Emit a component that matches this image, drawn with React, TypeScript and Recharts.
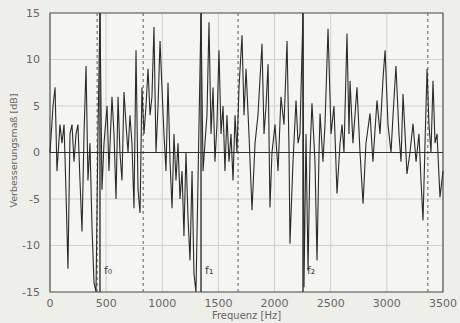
import React from 'react';
import { LineChart, Line, XAxis, YAxis, CartesianGrid, ReferenceLine, ReferenceArea } from 'recharts';

const frequencies = [
  0, 27, 45, 62, 89, 107, 125, 142, 160, 178, 196, 214, 232, 249, 267, 285, 303, 321, 338, 356,
  374, 392, 410, 427, 445, 463, 481, 508, 525, 552, 570, 588, 606, 623, 641, 659, 677, 695, 712, 730,
  748, 766, 784, 802, 819, 837, 855, 873, 891, 908, 926, 944, 962, 980, 997, 1015, 1033, 1051, 1069, 1087,
  1104, 1122, 1140, 1158, 1176, 1193, 1211, 1229, 1247, 1265, 1282, 1300, 1318, 1345, 1363, 1380, 1398, 1416, 1434, 1452,
  1469, 1487, 1505, 1523, 1541, 1558, 1576, 1594, 1612, 1630, 1648, 1665, 1683, 1710, 1728, 1746, 1772, 1799, 1826, 1852,
  1888, 1906, 1924, 1942, 1959, 1977, 2004, 2031, 2057, 2084, 2111, 2129, 2137, 2164, 2191, 2209, 2226, 2253, 2262, 2280,
  2298, 2316, 2333, 2360, 2378, 2396, 2405, 2431, 2449, 2476, 2503, 2529, 2556, 2583, 2601, 2618, 2645, 2663, 2672, 2698,
  2734, 2761, 2788, 2814, 2850, 2876, 2912, 2939, 2966, 2984, 3010, 3037, 3055, 3081, 3108, 3126, 3144, 3162, 3179, 3206,
  3233, 3260, 3286, 3304, 3322, 3340, 3358, 3375, 3393, 3411, 3429, 3447, 3473, 3500,
];

const improvement = [
  0, 5, 7, -2, 3, 1, 3, -4, -12.5, 2, 3, -1, 2, 3, -3, -8.5, 2, 9.3, -3, 1,
  -8, -14, -15, 2, 15, -4, 1, 5, -2, 6, 2, -5, 6, 0, -3, 6.5, 3, 0, 4, 1,
  -6, 11, -4, -6.5, 7, 2, 5, 9, 4, 6, 13.5, 0, 5, 12, 7, 2, -2, 7.5, -1, -6,
  2, -3, 1, -5, -2, -9, 0, -7, -11.6, -2, -13, -15, -3, 15, -2, 1, 4, 14, 2, 7,
  -1, 3, 11, 2, 5, -2, 4, -1, 2, -3, 4, 0, 7, 12.6, 4, 9, 2, -6.2, 1, 4,
  11.7, 2, 5, 9.5, -5.9, 0, 3, -2, 6, 3, 12, 0, -9.8, -1, 5.6, 1, 2, 15, -14.5, 2,
  -12.7, 0, 5.3, -1, -11.6, 0, 4.2, -1, 3, 13.3, 2, 5, -4.4, 1, 3, 0, 12.8, 2, 7.7, 1,
  7, 0, -5.5, 1, 4.2, -1, 5.6, 2, 8, 11, 3, 0, 4, 9.3, 2, -1, 6.3, 2, -2.3, 0,
  3.1, -1, 2, -3, -7.3, 1, 9, 3, 0, 7.7, 1, 2, -4.8, -2,
];

const xTicks = [0, 500, 1000, 1500, 2000, 2500, 3000, 3500];
const yTicks = [-15, -10, -5, 0, 5, 10, 15];

const solidMarkers = [445, 1345, 2253];
const solidLabels = ['f\u2080', 'f\u2081', 'f\u2082'];
const dashedMarkers = [420, 830, 1675, 3365];

const data = frequencies.map((f, i) => ({ f, v: improvement[i] }));

const MarkerLabel = (props: any) => {
  const { viewBox, value } = props;
  return (
    <text x={viewBox.x + 4} y={viewBox.y + viewBox.height - 18} fontSize={11} fill="#444" fontFamily="DejaVu Sans, sans-serif">
      {value}
    </text>
  );
};

const YLabel = (props: any) => {
  const { viewBox } = props;
  const cx = 13;
  const cy = viewBox.y + viewBox.height / 2 - 2;
  return (
    <text x={cx} y={cy} transform={`rotate(-90, ${cx}, ${cy})`} textAnchor="middle" dominantBaseline="central" fontSize={9.5} fill="#666" fontFamily="DejaVu Sans, sans-serif">
      Verbesserungsmaß [dB]
    </text>
  );
};

export default function App() {
  return (
    <div style={{ position: 'absolute', left: 0, top: 0, width: 460, height: 323, background: '#efefea' }}>
      <LineChart width={460} height={323} data={data} margin={{ top: 13, right: 17, left: 0, bottom: 0 }}>
        <CartesianGrid stroke="#d2d2cc" strokeWidth={1} fill="#f5f5f1" />
        <XAxis
          dataKey="f"
          type="number"
          domain={[0, 3500]}
          ticks={xTicks}
          height={31}
          tickLine={false}
          axisLine={false}
          tick={{ fontSize: 11, fill: '#666', fontFamily: 'DejaVu Sans, sans-serif' }}
          tickMargin={1}
          label={{ value: 'Frequenz [Hz]', position: 'insideBottom', offset: 4, fontSize: 10, fill: '#666', fontFamily: 'DejaVu Sans, sans-serif' }}
        />
        <YAxis
          type="number"
          domain={[-15, 15]}
          ticks={yTicks}
          width={50}
          tickLine={false}
          axisLine={false}
          tick={{ fontSize: 11, fill: '#666', fontFamily: 'DejaVu Sans, sans-serif' }}
          tickMargin={4}
          label={<YLabel />}
        />
        <ReferenceArea x1={0} x2={3500} y1={-15} y2={15} fill="none" stroke="#555" strokeWidth={1.2} />
        {dashedMarkers.map((m) => (
          <ReferenceLine key={'d' + m} x={m} stroke="#777" strokeDasharray="3 3" strokeWidth={1.2} />
        ))}
        {solidMarkers.map((m, i) => (
          <ReferenceLine key={'s' + m} x={m} stroke="#333" strokeWidth={1.4} label={<MarkerLabel value={solidLabels[i]} />} />
        ))}
        <ReferenceLine y={0} stroke="#333" strokeWidth={1.2} />
        <Line type="linear" dataKey="v" stroke="#2a2a2a" strokeWidth={1.1} dot={false} isAnimationActive={false} />
      </LineChart>
    </div>
  );
}
